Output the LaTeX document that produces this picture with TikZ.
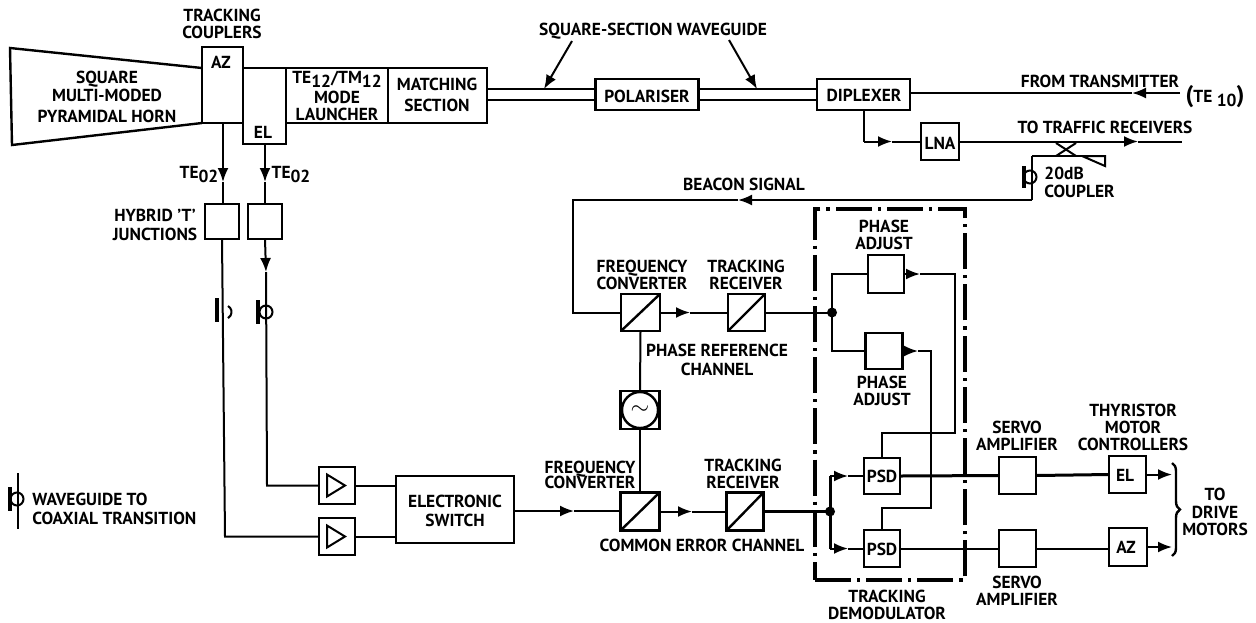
\documentclass[tikz,border=0pt]{standalone}
\usepackage{fontspec}
\setmainfont{PT Sans}
\usetikzlibrary{calc,arrows.meta,decorations.pathreplacing}

\newcommand{\subs}[1]{\raisebox{-2pt}[0pt][0pt]{#1}}

\tikzset{
  blk/.style n args={2}{draw, line width=1.2pt, inner sep=0pt, outer sep=0pt,
    minimum width=#1*0.5pt, minimum height=#2*0.5pt},
  lbl/.style={inner sep=0pt, align=center,
    font=\fontsize{8.7}{8.6}\selectfont\bfseries},
  wire/.style={line width=1pt},
  heavy/.style={line width=1.5pt},
  arw/.style={line width=1pt, -{Latex[length=7pt,width=5.5pt]}},
  demod/.style={line width=1.7pt, dash pattern=on 18pt off 3pt on 1.6pt off 3pt}
}

\begin{document}
\begin{tikzpicture}[x=0.5pt, y=-0.5pt]
  \useasboundingbox (0,0) rectangle (1256,622);

  % waveguide run along the top
  \node[blk={41}{76}]  (az)  at (222.5,85) {};
  \node[blk={43}{76}]  (el)  at (264.5,106) {};
  \node[blk={102}{55}] (lau) at (337,95.5) {};
  \node[blk={99}{55}]  (mat) at (437.5,95.5) {};
  \node[blk={103}{31}] (pol) at (647,94.5) {};
  \node[blk={93}{31}]  (dip) at (863.5,94.5) {};
  \node[blk={38}{37}]  (lna) at (940,141.5) {};

  \coordinate (HA) at (10,48);
  \coordinate (HB) at (12,145);
  \coordinate (WT) at (500,89);
  \coordinate (WB) at (500,100);
  \draw[line width=1.2pt] (az.west |- 0,68) -- (HA) -- (HB) -- (az.south west);
  \draw[wire] (mat.east |- WT) -- (pol.west |- WT);
  \draw[wire] (mat.east |- WB) -- (pol.west |- WB);
  \draw[wire] (pol.east |- WT) -- (dip.west |- WT);
  \draw[wire] (pol.east |- WB) -- (dip.west |- WB);

  \node[lbl] (hornt) at (107,97) {SQUARE\\[0.6pt]MULTI-MODED\\[2pt]PYRAMIDAL HORN};
  \node[lbl] (coupt) at (222,24) {TRACKING\\COUPLERS};
  \node[lbl] (azt)   at (221,62) {AZ};
  \node[lbl] (elt)   at (263,132) {EL};
  \node[lbl] (laut)  at (337,96) {TE\subs{12}/TM\subs{12}\\[1.5pt]MODE\\LAUNCHER};
  \node[lbl] (matt)  at (437,95) {MATCHING\\[2pt]SECTION};
  \node[lbl] (polt)  at (647,96) {POLARISER};
  \node[lbl] (dipt)  at (864,95) {DIPLEXER};
  \node[lbl] (lnat)  at (940,143) {LNA};
  \node[lbl] (wgt)   at (653,31) {SQUARE-SECTION WAVEGUIDE};
  \node[lbl] (txt)   at (1100,81) {FROM TRANSMITTER};
  \node[lbl] (te)    at (1215,97) {\fontsize{12}{12}\selectfont(\fontsize{8.7}{8}\selectfont TE \subs{10}\fontsize{12}{12}\selectfont)};
  \node[lbl] (rxt)   at (1105,127) {TO TRAFFIC RECEIVERS};
  \node[lbl] (beat)  at (744,184) {BEACON SIGNAL};
  \node[lbl, align=left, anchor=west] (cpt) at (1044,182) {20dB\\[0.4pt]COUPLER};

  % pointers to the waveguide
  \coordinate (P1) at (544,89);
  \coordinate (P2) at (757,89);
  \draw[arw] (572,41) -- (P1);
  \draw[arw] (729,40) -- (P2);

  % transmitter, receive path and beacon coupler
  \coordinate (TX) at (1180,93);
  \coordinate (T1) at (1132,93);
  \draw[arw] (TX) -- (T1);
  \draw[wire] (T1) -- (dip.east |- T1);

  \coordinate (D1) at (dip.south);
  \coordinate (D2) at (D1 |- lna.west);
  \coordinate (D3) at (892,141.5);
  \draw[wire] (D1) -- (D2);
  \draw[arw] (D2) -- (D3);
  \draw[wire] (D3) -- (lna.west);

  \coordinate (R1) at (1138,141.5);
  \coordinate (R2) at (1182,141.5);
  \draw[arw] (lna.east) -- (R1);
  \draw[wire] (R1) -- (R2);

  \coordinate (X1) at (1056,143);
  \coordinate (X2) at (1076,143);
  \coordinate (X3) at (1056,156);
  \coordinate (X4) at (1076,156);
  \coordinate (C1) at (1032,156);
  \coordinate (C2) at (1082,156);
  \coordinate (C3) at (1105,156);
  \coordinate (C4) at (1105,166);
  \draw[wire] (X1) -- (X4);
  \draw[wire] (X2) -- (X3);
  \draw[wire] (C1) -- (C2);
  \draw[wire] (C2) -- (C3) -- (C4) -- cycle;

  \coordinate (B1) at (1032,200);
  \coordinate (B2) at (738,200);
  \coordinate (B3) at (573,200);

  % receivers and demodulator
  \node[blk={39}{37}] (fc1) at (640.5,312.5) {};
  \node[blk={37}{37}] (tr1) at (746.5,312.5) {};
  \node[blk={39}{38}] (fc2) at (640,511.5) {};
  \node[blk={37}{38}] (tr2) at (745,511.5) {};
  \node[blk={39}{38}] (osc) at (640,410) {};
  \node[draw, line width=1.2pt, circle, inner sep=0pt, minimum size=18pt, font=\large] (sin) at (osc) {$\sim$};
  \node[blk={150}{371}, demod] (dem) at (890,394.5) {};

  \node[blk={36}{38}] (ph1) at (886,274) {};
  \node[blk={37}{36}] (ph2) at (884,351) {};
  \node[blk={36}{36}] (psd1) at (882,476) {};
  \node[blk={36}{37}] (psd2) at (882,548.5) {};
  \node[blk={37}{37}] (sv1) at (1017.5,475.5) {};
  \node[blk={37}{37}] (sv2) at (1017.5,548.5) {};
  \node[blk={37}{37}] (mel) at (1127.5,474.5) {};
  \node[blk={38}{38}] (maz) at (1128,547) {};

  \foreach \b in {fc1,tr1,fc2,tr2}
    \draw[line width=1.2pt] (\b.south west) -- (\b.north east);

  \draw[wire] (C1) -- (B1);
  \draw[arw] (B1) -- (B2);
  \draw[wire] (B2) -- (B3) -- (B3 |- fc1.west) -- (fc1.west);

  \coordinate (N1) at (832,312.5);
  \coordinate (N2) at (830,511.5);
  \coordinate (A1) at (690,312.5);
  \coordinate (A2) at (692,511.5);
  \draw[arw] (fc1.east) -- (A1);
  \draw[wire] (A1) -- (tr1.west);
  \draw[wire] (tr1.east) -- (N1);
  \draw[arw] (fc2.east) -- (A2);
  \draw[wire] (A2) -- (tr2.west);
  \draw[heavy] (tr2.east) -- (N2);
  \fill (N1) circle (5);
  \fill (N2) circle (5);

  \draw[wire] (fc1.south) -- (osc.north);
  \draw[wire] (osc.south) -- (fc2.north);

  % phase reference branches
  \coordinate (PA1) at (920,274);
  \coordinate (PA2) at (955,274);
  \coordinate (PA3) at (955,433);
  \coordinate (PA4) at (psd1.north |- PA3);
  \draw[wire] (N1) -- (N1 |- ph1.west) -- (ph1.west);
  \draw[wire] (N1) -- (N1 |- ph2.west) -- (ph2.west);
  \draw[arw] (ph1.east) -- (PA1);
  \draw[wire] (PA1) -- (PA2) -- (PA3) -- (PA4) -- (psd1.north);

  \coordinate (PB1) at (918,351);
  \coordinate (PB2) at (931,351);
  \coordinate (PB3) at (931,508);
  \coordinate (PB4) at (psd2.north |- PB3);
  \draw[arw] (ph2.east) -- (PB1);
  \draw[wire] (PB1) -- (PB2) -- (PB3) -- (PB4) -- (psd2.north);

  % error branches into the detectors
  \coordinate (E1) at (848,476);
  \coordinate (E2) at (848,548.5);
  \draw[heavy] (N2) -- (N2 |- E1);
  \draw[arw] (N2 |- E1) -- (E1);
  \draw[wire] (E1) -- (psd1.west);
  \draw[heavy] (N2) -- (N2 |- E2);
  \draw[arw] (N2 |- E2) -- (E2);
  \draw[wire] (E2) -- (psd2.west);

  % drive side
  \coordinate (M1) at (1172,474.5);
  \coordinate (M2) at (1172,547);
  \draw[heavy] (psd1.east) -- (sv1.west);
  \draw[heavy] (sv1.east) -- (mel.west);
  \draw[wire] (psd2.east) -- (sv2.west);
  \draw[wire] (sv2.east) -- (maz.west |- sv2.east);
  \draw[arw] (mel.east) -- (M1);
  \draw[arw] (maz.east) -- (M2);
  \draw[line width=1.2pt, decorate, decoration={brace, amplitude=4pt}] (1172,463) -- (1172,556);

  % feeds from the couplers
  \node[blk={34}{35}] (hy1) at (222,221.5) {};
  \node[blk={34}{35}] (hy2) at (265,221.5) {};
  \node[blk={36}{37}] (am1) at (337,485.5) {};
  \node[blk={36}{37}] (am2) at (337,536.5) {};
  \node[blk={118}{67}] (esw) at (455,509.5) {};

  \foreach \b in {am1,am2}
    \draw[line width=1pt] ($(\b.center)+(-10,-11)$) -- ($(\b.center)+(8,0)$) -- ($(\b.center)+(-10,11)$) -- cycle;

  \coordinate (F1) at (223,123);
  \coordinate (F2) at (223,182);
  \coordinate (F3) at (265,144);
  \coordinate (F4) at (265,182);
  \coordinate (F5) at (266,272);
  \coordinate (F7) at (267,485.5);
  \coordinate (F8) at (225,536.5);
  \draw[arw] (F1) -- (F2);
  \draw[wire] (F2) -- (F2 |- hy1.north);
  \draw[arw] (F3) -- (F4);
  \draw[wire] (F4) -- (F4 |- hy2.north);
  \draw[arw] (hy2.south) -- (F5);
  \draw[wire] (F5) -- (F7) -- (am1.west);
  \draw[wire] (hy1.south) -- (F8) -- (am2.west);
  \draw[wire] (am1.east) -- (esw.west |- am1.east);
  \draw[wire] (am2.east) -- (esw.west |- am2.east);

  \coordinate (S1) at (574,511);
  \draw[arw] (esw.east |- S1) -- (S1);
  \draw[wire] (S1) -- (fc2.west |- S1);

  % waveguide to coaxial transitions
  \coordinate (Q1) at (224,312);
  \coordinate (Q2) at (266,312);
  \coordinate (Q3) at (1030,177);
  \coordinate (Q4) at (17,499);
  \draw[line width=1.6pt] (217,298) -- (217,322);
  \draw[line width=1pt] ($(Q1)+(4,-6)$) arc (-60:60:7);
  \draw[line width=1.6pt] (258,300) -- (258,324);
  \draw[line width=1pt] (Q2) circle (6.5);
  \draw[line width=1.6pt] (1024,166) -- (1024,188);
  \draw[line width=1pt] (Q3) circle (6.5);
  \draw[wire] (18,473) -- (18,529);
  \draw[line width=1.6pt] (10,487) -- (10,511);
  \draw[line width=1pt] (Q4) circle (6.5);

  % remaining labels
  \node[lbl] (te1t) at (199,172) {TE\subs{02}};
  \node[lbl] (te2t) at (291,172) {TE\subs{02}};
  \node[lbl] (hyt)  at (155,225) {HYBRID 'T'\\[0.5pt]JUNCTIONS};
  \node[lbl, align=left, anchor=west] (legt) at (32,509) {WAVEGUIDE TO\\[0.6pt]COAXIAL TRANSITION};
  \node[lbl] (eswt) at (455,511) {ELECTRONIC\\[0.6pt]SWITCH};
  \node[lbl] (fc1t) at (642,275) {FREQUENCY\\CONVERTER};
  \node[lbl] (tr1t) at (746,275) {TRACKING\\RECEIVER};
  \node[lbl] (ph1t) at (884,235) {PHASE\\ADJUST};
  \node[lbl] (ph2t) at (882,391) {PHASE\\ADJUST};
  \node[lbl] (reft) at (717,359.5) {PHASE REFERENCE\\[1pt]CHANNEL};
  \node[lbl] (fc2t) at (590,474.5) {FREQUENCY\\[-1pt]CONVERTER};
  \node[lbl] (tr2t) at (743,473.5) {TRACKING\\RECEIVER};
  \node[lbl] (errt) at (702,545) {COMMON ERROR CHANNEL};
  \node[lbl] (psd1t) at (882,476) {PSD};
  \node[lbl] (psd2t) at (882,549) {PSD};
  \node[lbl] (demt) at (887,604.5) {TRACKING\\DEMODULATOR};
  \node[lbl] (sv1t) at (1017,436) {SERVO\\AMPLIFIER};
  \node[lbl] (sv2t) at (1017,590.5) {SERVO\\AMPLIFIER};
  \node[lbl] (thyt) at (1133,427.5) {THYRISTOR\\MOTOR\\CONTROLLERS};
  \node[lbl] (melt) at (1125,475) {EL};
  \node[lbl] (mazt) at (1126,547) {AZ};
  \node[lbl] (drvt) at (1215,512) {TO\\DRIVE\\MOTORS};
\end{tikzpicture}
\end{document}
